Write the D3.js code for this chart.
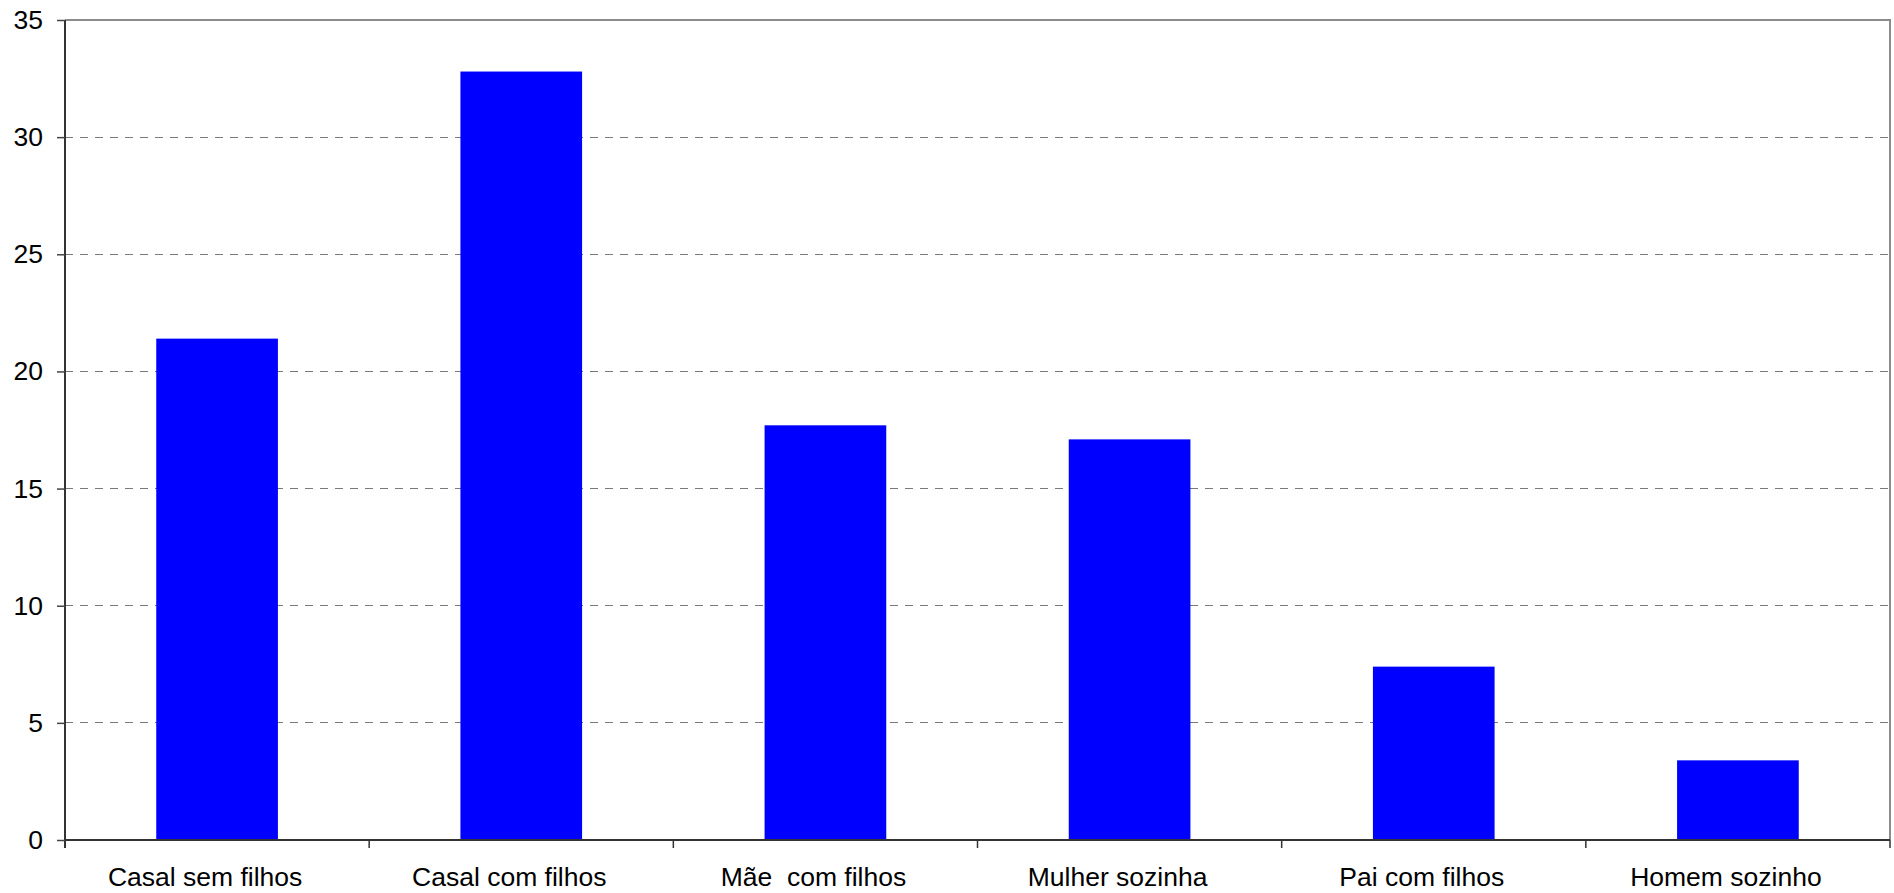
<!DOCTYPE html>
<html>
<head>
<meta charset="utf-8">
<script src="https://cdn.jsdelivr.net/npm/d3@7"></script>
<style>
  html, body { margin: 0; padding: 0; background: #fff; }
  svg { display: block; }
  text { font-family: "Liberation Sans", Arial, sans-serif; fill: #000; }
</style>
</head>
<body>
<svg id="chart" width="1894" height="893"></svg>
<script>
const categories = ["Casal sem filhos", "Casal com filhos", "Mãe  com filhos", "Mulher sozinha", "Pai com filhos", "Homem sozinho"];
const values = [21.4, 32.8, 17.7, 17.1, 7.4, 3.4];
const yTicks = [0, 5, 10, 15, 20, 25, 30, 35];

const W = 1894, H = 893;
const m = { left: 65, right: 1890, top: 20, bottom: 840 };

const svg = d3.select("#chart");

const x = d3.scaleBand().domain(categories).range([m.left, m.right]).padding(0);
const y = d3.scaleLinear().domain([0, 35]).range([m.bottom, m.top]);
const step = x.step();

// gridlines
svg.append("g")
  .selectAll("line")
  .data(yTicks.filter(d => d > 0 && d < 35))
  .join("line")
  .attr("x1", m.left).attr("x2", m.right)
  .attr("y1", d => y(d)).attr("y2", d => y(d))
  .attr("stroke", "#7a7a7a").attr("stroke-width", 1)
  .attr("stroke-dasharray", "8,7")
  .attr("shape-rendering", "crispEdges");

// plot border (top & right)
svg.append("path")
  .attr("d", `M${m.left},${y(35)}H${m.right}V${m.bottom}`)
  .attr("fill", "none").attr("stroke", "#8c8c8c").attr("stroke-width", 2);

// bars
svg.append("g")
  .selectAll("rect")
  .data(categories.map((c, i) => ({ c, v: values[i] })))
  .join("rect")
  .attr("x", d => x(d.c) + step * 0.3)
  .attr("width", step * 0.4)
  .attr("y", d => y(d.v))
  .attr("height", d => y(0) - y(d.v))
  .attr("fill", "#0000ff");

// y axis
const yAxis = d3.axisLeft(y).tickValues(yTicks).tickSize(8).tickPadding(14).tickSizeOuter(0);
const gy = svg.append("g").attr("transform", `translate(${m.left},0)`).call(yAxis);
gy.select(".domain").attr("stroke", "#333").attr("stroke-width", 2)
  .attr("d", `M0,${y(35)}V${m.bottom + 8}`);
gy.selectAll(".tick line").attr("stroke", "#444").attr("stroke-width", 1.5);
gy.selectAll(".tick text").attr("font-size", 26.5).attr("font-family", "Liberation Sans, Arial, sans-serif").attr("fill", "#000");

// x axis
const boundaries = d3.range(categories.length + 1).map(i => m.left + i * step);
const gx = svg.append("g");
gx.append("line")
  .attr("x1", m.left).attr("x2", m.right)
  .attr("y1", m.bottom).attr("y2", m.bottom)
  .attr("stroke", "#333").attr("stroke-width", 2);
gx.selectAll("line.tk")
  .data(boundaries.slice(1))
  .join("line").attr("class", "tk")
  .attr("x1", d => d).attr("x2", d => d)
  .attr("y1", m.bottom).attr("y2", m.bottom + 8)
  .attr("stroke", "#333").attr("stroke-width", 1.5);
gx.selectAll("text")
  .data(categories)
  .join("text")
  .attr("x", d => x(d) + x.bandwidth() / 2 - 12)
  .attr("y", 886)
  .attr("text-anchor", "middle")
  .attr("font-size", 26.5)
  .style("white-space", "pre")
  .attr("xml:space", "preserve")
  .text(d => d);
</script>
</body>
</html>
